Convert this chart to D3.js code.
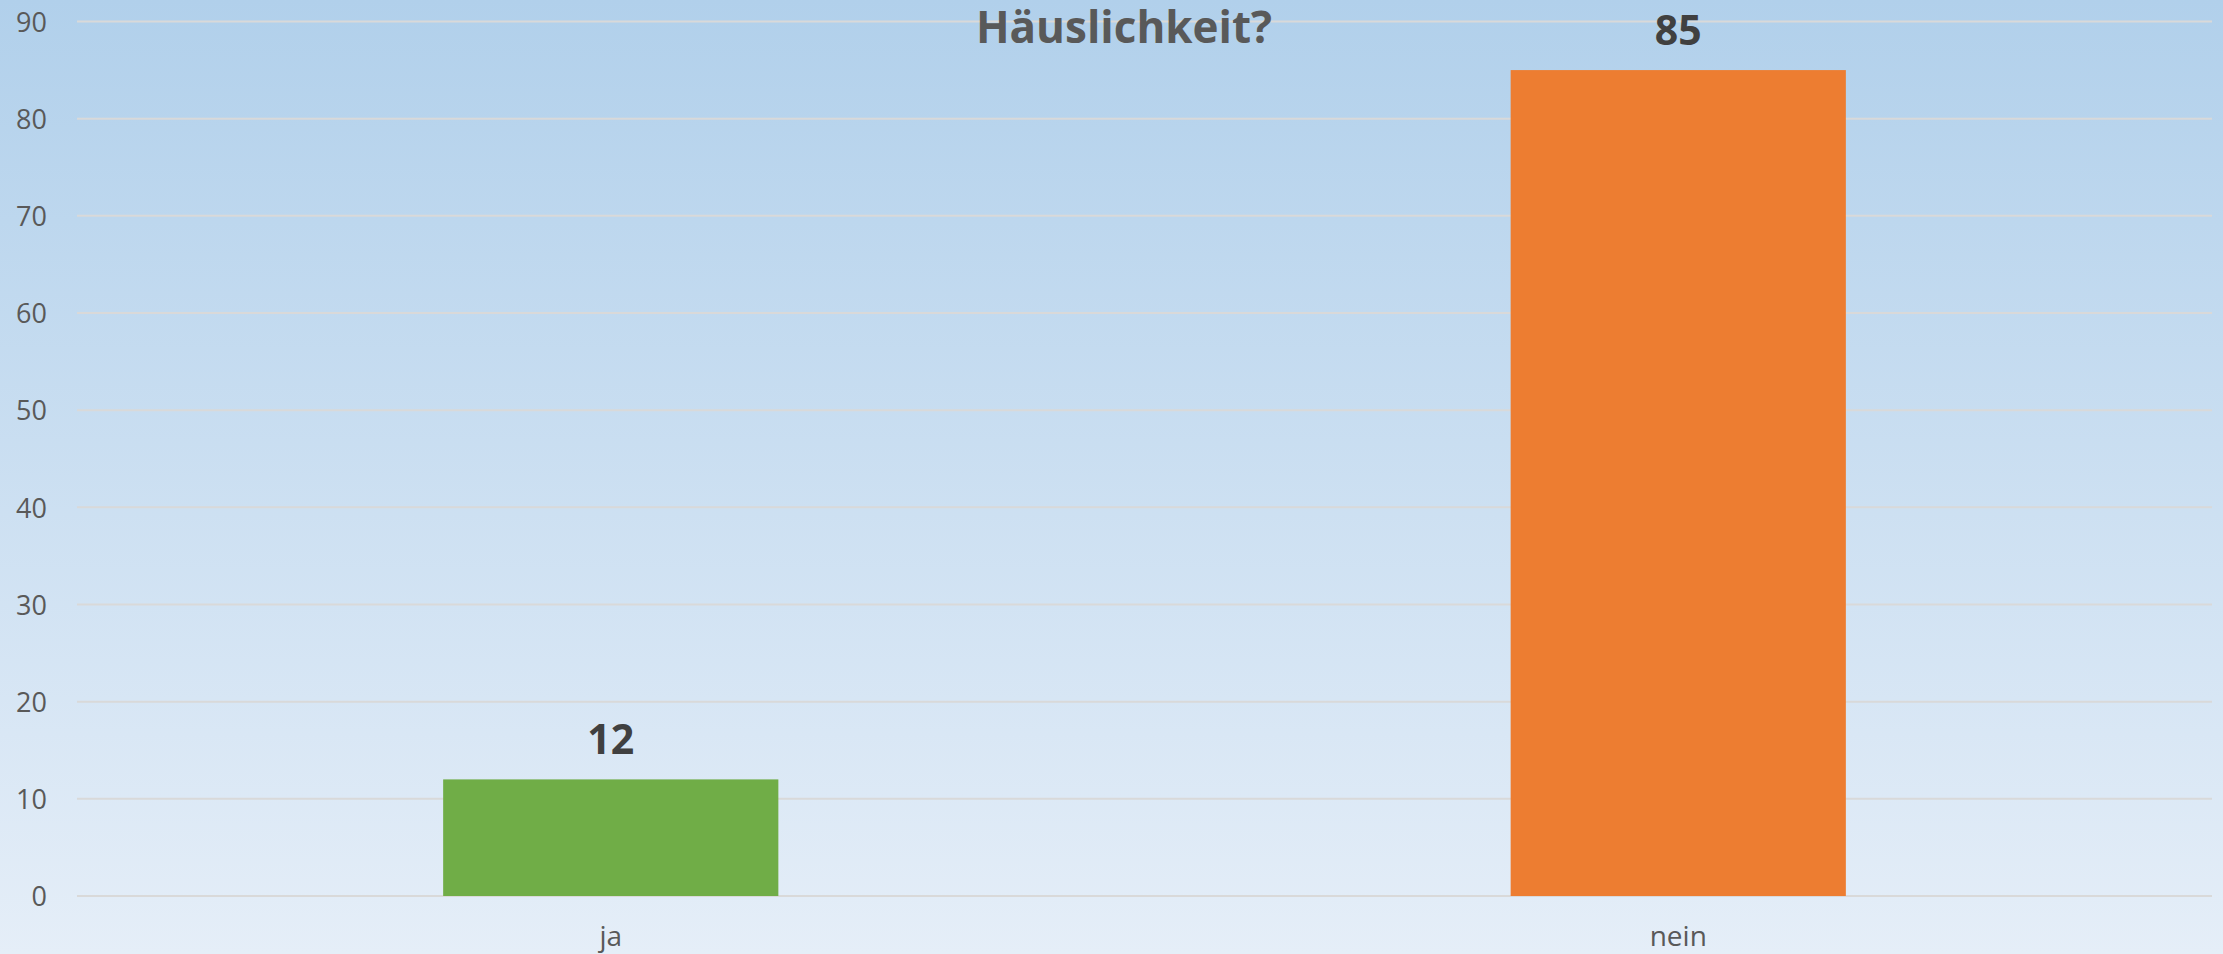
<!DOCTYPE html>
<html>
<head>
<meta charset="utf-8">
<script src="https://cdn.jsdelivr.net/npm/d3@7"></script>
<style>
  body { margin: 0; overflow: hidden; }
  svg { display: block; }
</style>
</head>
<body>
<div id="main"></div>
<script>
// data
var categories = ["ja", "nein"];
var values = [12, 85];
var barColors = ["#70AD47", "#ED7D31"];
var yTicks = [0, 10, 20, 30, 40, 50, 60, 70, 80, 90];
var title = "Häuslichkeit?";

var w = 2223;
var h = 954;
var margin = {top: 21.5, right: 11, bottom: 58, left: 77};

var svg = d3.select("#main")
  .append("svg")
  .attr("width", w)
  .attr("height", h);

// background gradient
var grad = svg.append("defs").append("linearGradient")
  .attr("id", "bg")
  .attr("x1", 0).attr("y1", 0).attr("x2", 0).attr("y2", 1);
grad.append("stop").attr("offset", "0%").attr("stop-color", "#B1D0EB");
grad.append("stop").attr("offset", "100%").attr("stop-color", "#E5EEF8");

svg.append("rect")
  .attr("width", w)
  .attr("height", h)
  .attr("fill", "url(#bg)");

var x = d3.scaleBand()
  .domain(categories)
  .range([margin.left, w - margin.right])
  .paddingInner(0.686)
  .paddingOuter(0.343);

var y = d3.scaleLinear()
  .domain([0, 90])
  .range([h - margin.bottom, margin.top]);

// gridlines
svg.append("g")
  .selectAll("line")
  .data(yTicks)
  .enter()
  .append("line")
  .attr("x1", margin.left)
  .attr("x2", w - margin.right)
  .attr("y1", function(d) { return y(d); })
  .attr("y2", function(d) { return y(d); })
  .attr("stroke", "#D9D9D9")
  .attr("stroke-width", 2);

// y axis labels
var yAxis = d3.axisLeft(y)
  .tickValues(yTicks)
  .tickSize(0)
  .tickPadding(0);

var gy = svg.append("g")
  .attr("transform", "translate(47,0)")
  .call(yAxis);
gy.select(".domain").remove();
gy.selectAll("text")
  .attr("fill", "#595959")
  .attr("font-family", "'Open Sans', sans-serif")
  .attr("font-size", 27)
  .attr("dy", "0.36em");

// bars
svg.selectAll(".bar")
  .data(values)
  .enter()
  .append("rect")
  .attr("class", "bar")
  .attr("x", function(d, i) { return x(categories[i]); })
  .attr("y", function(d) { return y(d); })
  .attr("width", x.bandwidth())
  .attr("height", function(d) { return y(0) - y(d); })
  .attr("fill", function(d, i) { return barColors[i]; });

// value labels
svg.selectAll(".val")
  .data(values)
  .enter()
  .append("text")
  .attr("class", "val")
  .attr("x", function(d, i) { return x(categories[i]) + x.bandwidth() / 2; })
  .attr("y", function(d) { return y(d) - 25; })
  .attr("text-anchor", "middle")
  .attr("fill", "#404040")
  .attr("font-family", "'Open Sans', sans-serif")
  .attr("font-weight", "bold")
  .attr("font-size", 41)
  .text(function(d) { return d; });

// x axis labels
var xAxis = d3.axisBottom(x).tickSize(0).tickPadding(0);
var gx = svg.append("g")
  .attr("transform", "translate(0," + (h - 8) + ")")
  .call(xAxis);
gx.select(".domain").remove();
gx.selectAll("text")
  .attr("dy", 0)
  .attr("fill", "#595959")
  .attr("font-family", "'Open Sans', sans-serif")
  .attr("font-size", 28);

// title
svg.append("text")
  .attr("x", 1124)
  .attr("y", 43)
  .attr("text-anchor", "middle")
  .attr("fill", "#595959")
  .attr("font-family", "'Open Sans', sans-serif")
  .attr("font-weight", "bold")
  .attr("font-size", 44)
  .text(title);
</script>
</body>
</html>
